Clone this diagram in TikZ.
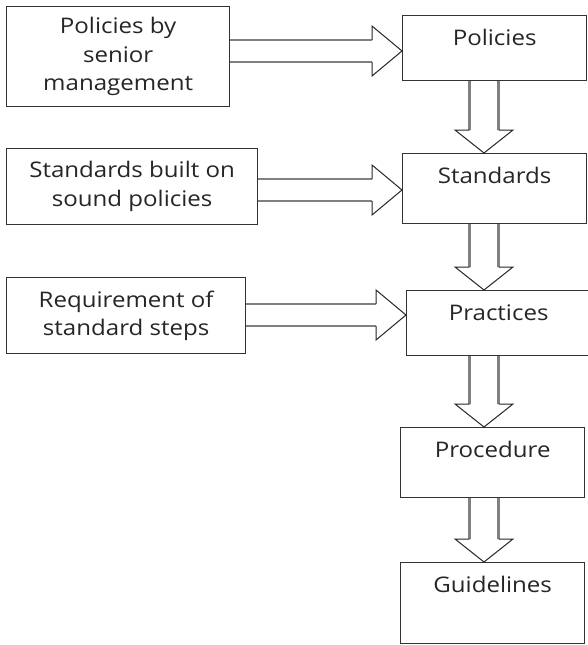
\documentclass[tikz,border=0pt]{standalone}
\usepackage{fontspec}
\setmainfont{Open Sans}[FakeStretch=1.12]
\usetikzlibrary{calc}

% hollow arrow pointing right, from box #1 to box #2 at height #3
\newcommand\fatright[3]{
  \draw[shaft] (#1.east |- #3) ++(0,-11) -- ($(#2.west |- #3)+(-30,-11)$);
  \draw[shaft] (#1.east |- #3) ++(0,11) -- ($(#2.west |- #3)+(-30,11)$);
  \draw[head] ($(#2.west |- #3)+(-30,-11)$) -- ++(0,-14) -- (#2.west |- #3)
    -- ++(-30,25) -- ++(0,-14);
}
% hollow arrow pointing down, from box #1 to box #2
\newcommand\fatdown[2]{
  \draw[shaft] (col |- #1.south) ++(-14.5,0) -- ($(col |- #2.north)+(-14.5,-23)$);
  \draw[shaft] (col |- #1.south) ++(14.5,0) -- ($(col |- #2.north)+(14.5,-23)$);
  \draw[head] ($(col |- #2.north)+(-14.5,-23)$) -- ++(-14.5,0) -- (col |- #2.north)
    -- ++(29,-23) -- ++(-14.5,0);
}

\begin{document}
\begin{tikzpicture}[x=1pt,y=-1pt,
    box/.style={draw=black!80,line width=1.3pt,anchor=north west,align=center,
      inner sep=0pt,text=black!85,font=\fontsize{21.5pt}{28.5pt}\selectfont},
    stage/.style={box,minimum width=184pt,inner ysep=15pt,
      text height=15pt,text depth=#1},
    shaft/.style={draw=gray,line width=2.5pt},
    head/.style={draw=black!85,line width=1pt}]
  \useasboundingbox[fill=white] (0,0) rectangle (587,645);

  \coordinate (col) at (484,0);
  \coordinate (row1) at (0,51);
  \coordinate (row2) at (0,190);
  \coordinate (row3) at (0,315);

  % sources on the left
  \node[box,minimum width=223pt,minimum height=100pt] (mgmt) at (6,6)
    {Policies by\\senior\\management};
  \node[box,minimum width=251pt,minimum height=76pt] (sound) at (6,148)
    {Standards built on\\sound policies};
  \node[box,minimum width=239pt,minimum height=76pt] (steps) at (6,277)
    {Requirement of\\standard steps};

  % the chain on the right
  \node[stage=20pt] (pol) at (402,15) {Policies};
  \node[stage=25pt] (std) at (402,153) {Standards};
  \node[stage=20pt] (prac) at (406,290) {Practices};
  \node[stage=25pt] (proc) at (400,427) {Procedure};
  \node[stage=36pt] (guide) at (400,562) {Guidelines};

  \fatright{mgmt}{pol}{row1}
  \fatright{sound}{std}{row2}
  \fatright{steps}{prac}{row3}

  \fatdown{pol}{std}
  \fatdown{std}{prac}
  \fatdown{prac}{proc}
  \fatdown{proc}{guide}
\end{tikzpicture}
\end{document}
